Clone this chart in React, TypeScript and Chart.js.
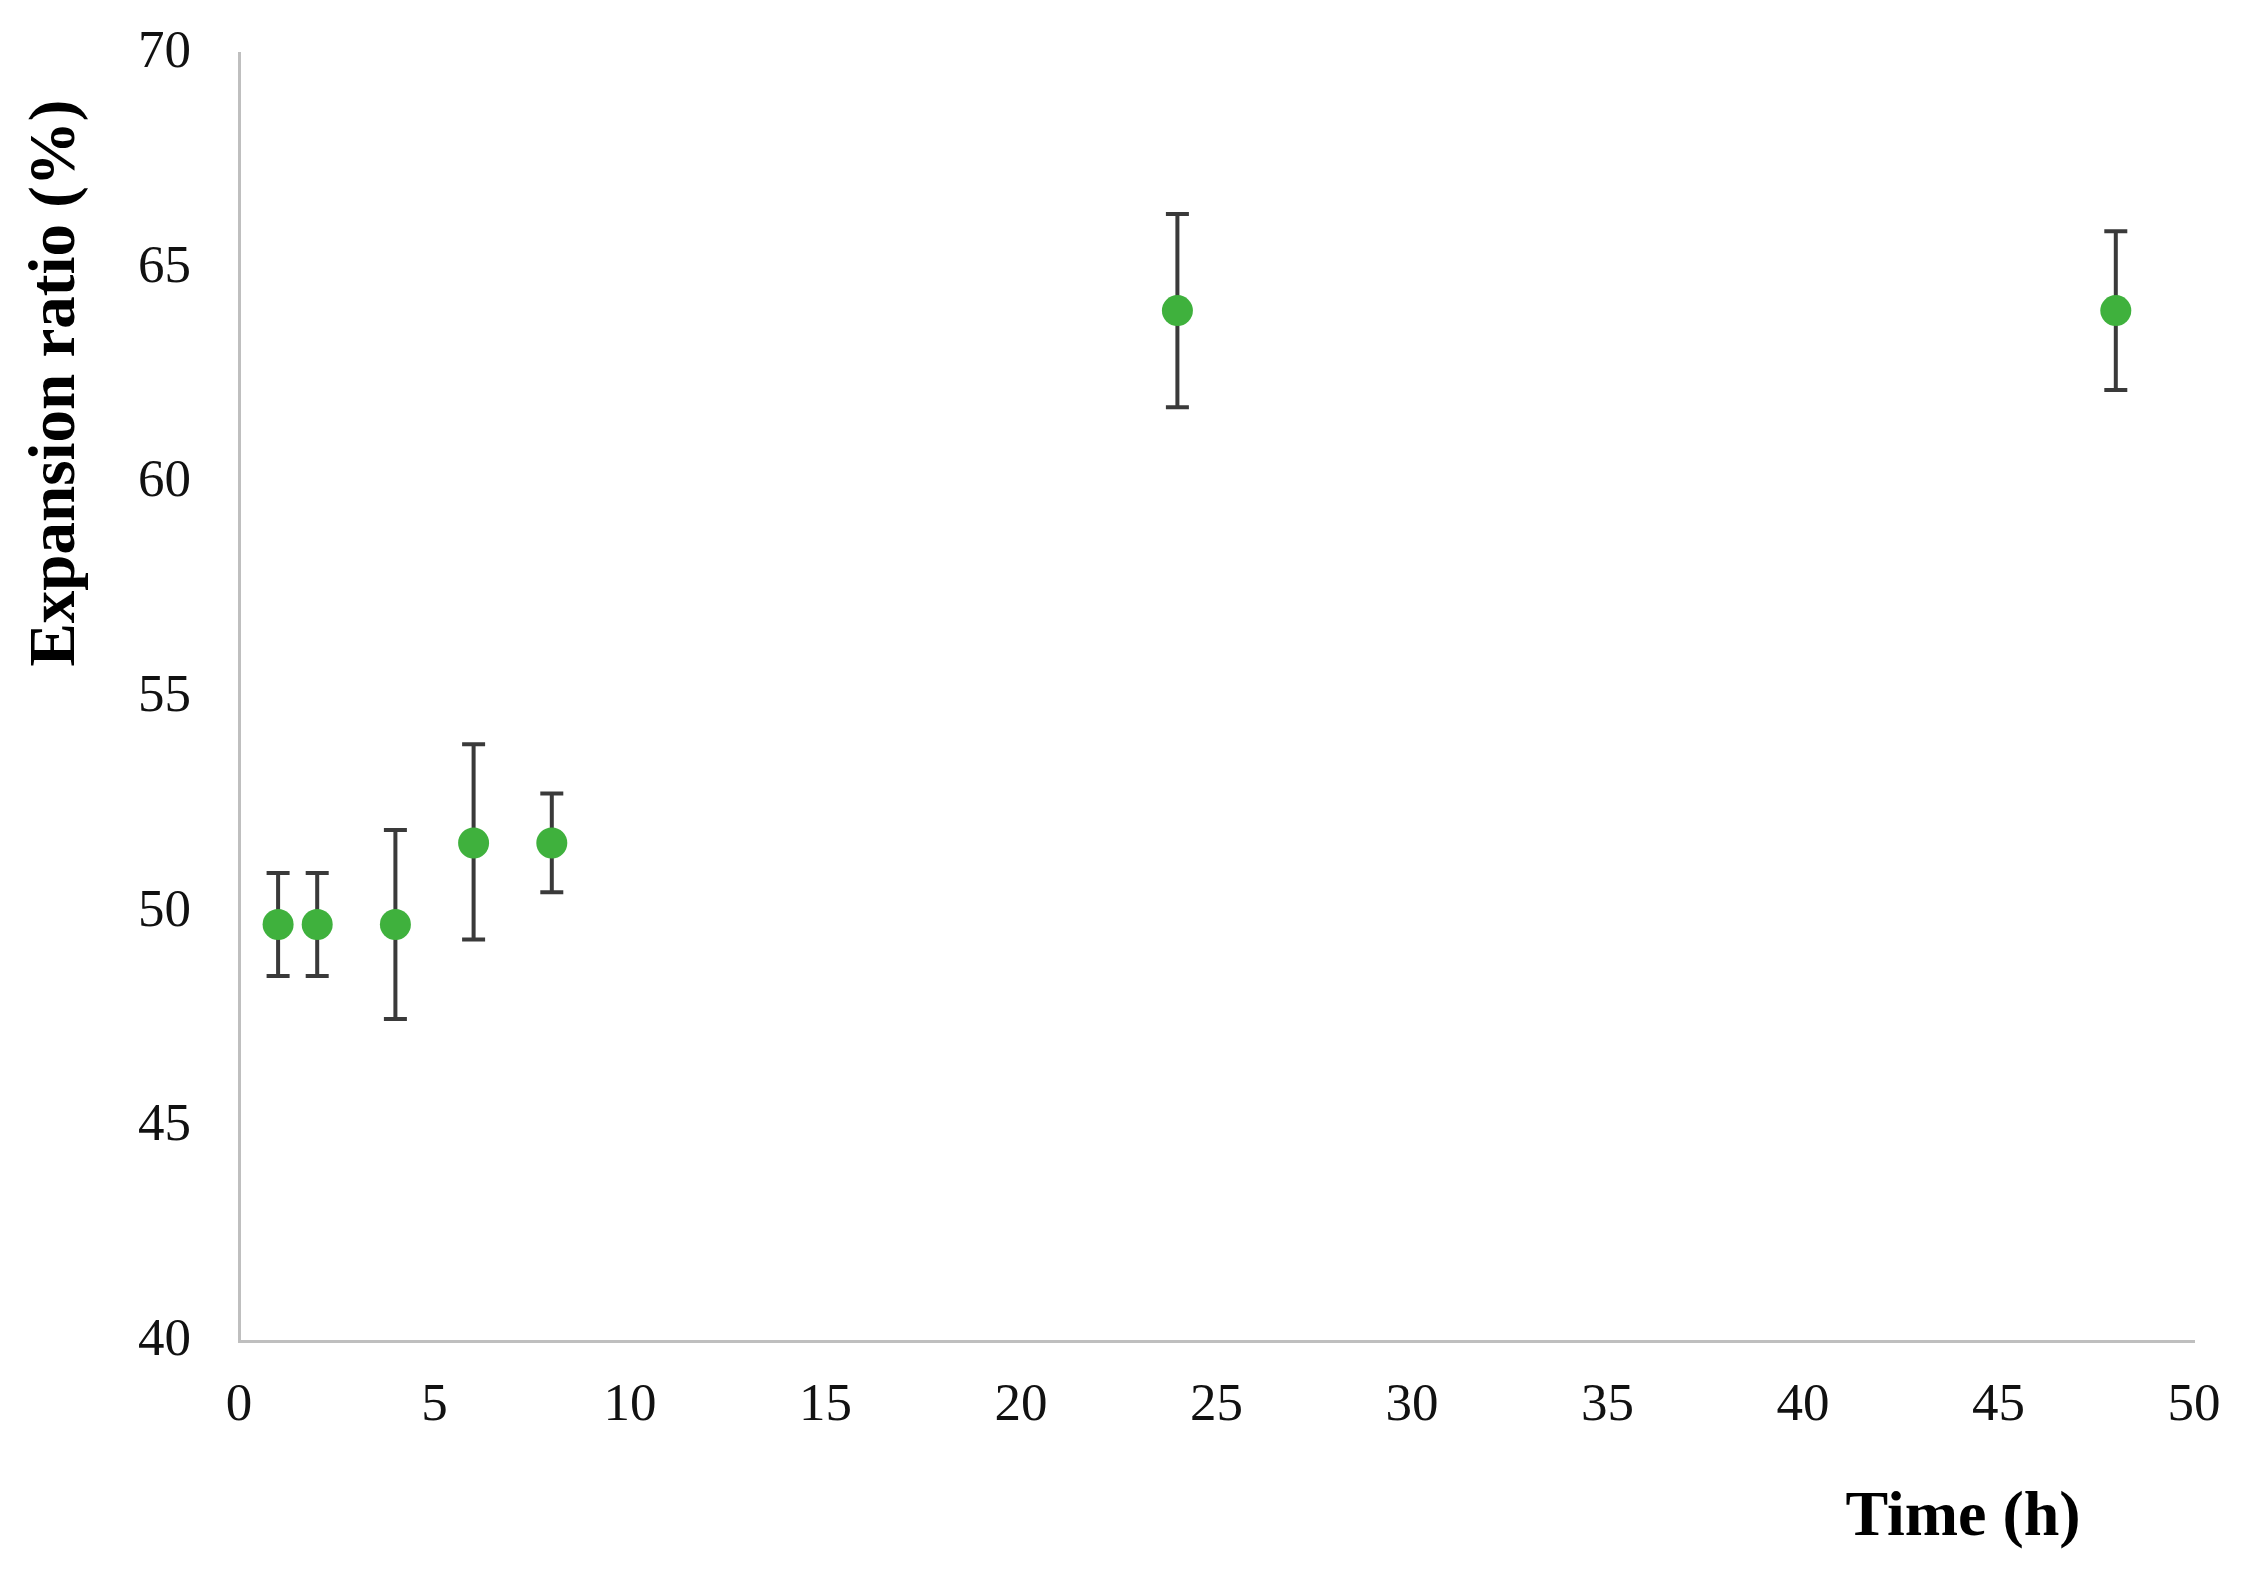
import React, { useEffect, useRef } from "react";
import { Chart, registerables } from "chart.js";

Chart.register(...registerables);

const timeHours = [1, 2, 4, 6, 8, 24, 48];
const expansionRatio = [49.7, 49.7, 49.7, 51.6, 51.6, 64.0, 64.0];
const errorUpper = [1.2, 1.2, 2.2, 2.3, 1.15, 2.25, 1.85];
const errorLower = [1.2, 1.2, 2.2, 2.25, 1.15, 2.25, 1.85];
const xTitle = "Time (h)";
const yTitle = "Expansion ratio (%)";

const errorBarPlugin = {
  id: "errorBars",
  beforeDatasetsDraw(chart: any) {
    const { ctx, scales } = chart;
    const xs = scales.x;
    const ys = scales.y;
    ctx.save();
    ctx.strokeStyle = "#3a3a3a";
    ctx.lineWidth = 4;
    const cap = 11.5;
    timeHours.forEach((t, i) => {
      const px = xs.getPixelForValue(t);
      const top = ys.getPixelForValue(expansionRatio[i] + errorUpper[i]);
      const bot = ys.getPixelForValue(expansionRatio[i] - errorLower[i]);
      ctx.beginPath();
      ctx.moveTo(px, top);
      ctx.lineTo(px, bot);
      ctx.moveTo(px - cap, top);
      ctx.lineTo(px + cap, top);
      ctx.moveTo(px - cap, bot);
      ctx.lineTo(px + cap, bot);
      ctx.stroke();
    });
    ctx.restore();
  },
};

const titlesPlugin = {
  id: "axisTitles",
  afterDraw(chart: any) {
    const { ctx } = chart;
    ctx.save();
    ctx.fillStyle = "#000";
    ctx.textAlign = "center";
    ctx.textBaseline = "middle";
    ctx.font = "bold 64px 'Liberation Serif', 'Times New Roman', serif";
    ctx.fillText(xTitle, 1963, 1518);
    ctx.font = "bold 65px 'Liberation Serif', 'Times New Roman', serif";
    ctx.translate(57, 383);
    ctx.rotate(-Math.PI / 2);
    ctx.fillText(yTitle, 0, 0);
    ctx.restore();
  },
};

export default function App() {
  const ref = useRef<HTMLCanvasElement | null>(null);
  useEffect(() => {
    if (!ref.current) return;
    const tickFont = { family: "'Liberation Serif', 'Times New Roman', serif", size: 53 };
    const chart = new Chart(ref.current, {
      type: "scatter",
      data: {
        datasets: [
          {
            data: timeHours.map((t, i) => ({ x: t, y: expansionRatio[i] })),
            pointRadius: 15.5,
            pointHoverRadius: 15.5,
            backgroundColor: "#3fb13d",
            borderWidth: 0,
          },
        ],
      },
      options: {
        animation: false,
        responsive: false,
        maintainAspectRatio: false,
        layout: { padding: { left: 0, top: 53, right: 50, bottom: 0 } },
        plugins: { legend: { display: false }, tooltip: { enabled: false } },
        scales: {
          x: {
            type: "linear",
            min: 0,
            max: 50,
            ticks: { stepSize: 5, color: "#111", font: tickFont, padding: 33, maxRotation: 0 },
            grid: { display: true, drawOnChartArea: false, drawTicks: false },
            border: { display: true, color: "#bfbfbf", width: 3 },
            afterFit: (s: any) => {
              s.height = 1575 - 1341;
              s.paddingLeft = 0;
              s.paddingRight = 0;
            },
          },
          y: {
            type: "linear",
            min: 40,
            max: 70,
            ticks: { stepSize: 5, color: "#111", font: tickFont, padding: 48 },
            grid: { display: true, drawOnChartArea: false, drawTicks: false },
            border: { display: true, color: "#bfbfbf", width: 3 },
            afterFit: (s: any) => {
              s.width = 239;
              s.paddingTop = 0;
              s.paddingBottom = 0;
            },
          },
        },
      },
      plugins: [errorBarPlugin, titlesPlugin],
    });
    return () => chart.destroy();
  }, []);
  return (
    <div style={{ position: "fixed", left: 0, top: 0, width: 2244, height: 1575, background: "#fff" }}>
      <canvas ref={ref} width={2244} height={1575} style={{ width: 2244, height: 1575, display: "block" }} />
    </div>
  );
}
